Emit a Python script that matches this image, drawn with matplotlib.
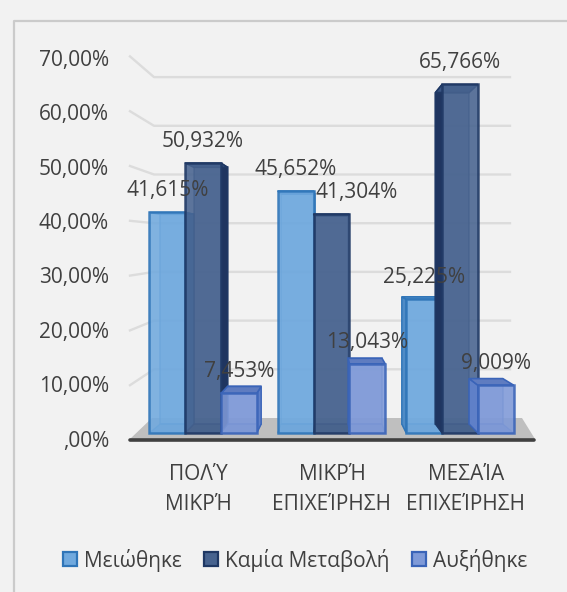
import matplotlib
matplotlib.use('Agg')
import matplotlib.pyplot as plt
from matplotlib.patches import Polygon, Rectangle
from matplotlib.lines import Line2D

plt.rcParams['font.family'] = ['Open Sans', 'DejaVu Sans']

# data
categories = ['ΠΟΛΎ\nΜΙΚΡΉ', 'ΜΙΚΡΉ\nΕΠΙΧΕΊΡΗΣΗ', 'ΜΕΣΑΊΑ\nΕΠΙΧΕΊΡΗΣΗ']
series_names = ['Μειώθηκε', 'Καμία Μεταβολή', 'Αυξήθηκε']
meiothike = [41.615, 45.652, 25.225]
kamia = [50.932, 41.304, 65.766]
afxithike = [7.453, 13.043, 9.009]
y_ticks = [0, 10, 20, 30, 40, 50, 60, 70]
y_tick_labels = [',00%', '10,00%', '20,00%', '30,00%', '40,00%', '50,00%', '60,00%', '70,00%']

# style
fills = ['#70a9de', '#47638f', '#7f9ad8']
edges = ['#2f75b8', '#1f3864', '#3a64b8']
sides = ['#4f8bc6', '#1f3560', '#5f80c8']
tops = ['#5f9ad2', '#3a5583', '#5f7cc0']
text_col = '#404040'
W, H = 567, 592
FS = 15

fig = plt.figure(figsize=(W / 100, H / 100), dpi=100, facecolor='#f2f2f2')
ax = fig.add_axes([0, 0, 1, 1])
ax.axis('off')

# one group = 128.5 px, one percent = 5.3 px on the front plane of the bars
ax.set_xlim((0 - 203) / 128.5, (W - 203) / 128.5)
ax.set_ylim((433 - H) / 5.3, 433 / 5.3)
bar_w = 35.8 / 128.5


def fx(p):
    return p / W


def fy(p):
    return 1 - p / H


def back(x, v):
    # perspective: back face of a bar
    return 1 + (x - 1) * 0.94, 9 / 5.3 + v * 5.04 / 5.3


def fig_poly(pts, **kw):
    fig.add_artist(Polygon([(fx(a), fy(b)) for a, b in pts], transform=fig.transFigure, **kw))


def fig_line(xs, ys, **kw):
    fig.add_artist(Line2D([fx(a) for a in xs], [fy(b) for b in ys], transform=fig.transFigure, **kw))


# frame: top and left only, the rest runs off the picture
fig_line([14, 14, W + 5], [H + 5, 21, 21], color='#cbcbcb', lw=1.6, zorder=-5)

# walls
for t in y_ticks[1:]:
    wy = 418 - 4.87 * t
    fig_line([130, 154, 510], [440 - 5.48 * t, wy, wy], color='#dcdcdc', lw=1.7, zorder=-4)

# floor
fig_poly([(130, 439), (152, 418), (522, 418), (535, 439)], facecolor='#bfbfbf', edgecolor='none', zorder=-3)
fig_line([130, 534], [440, 440], color='#404040', lw=2.6, solid_capstyle='round', zorder=-2)


def draw_bar(x0, v, j):
    x1 = x0 + bar_w
    f = [(x0, 0), (x1, 0), (x1, v), (x0, v)]
    b = [back(x, y) for x, y in f]
    ec = edges[j]
    # inside of the box, seen through the front
    ax.add_patch(Polygon(b, facecolor=fills[j], edgecolor=ec, lw=1.2, alpha=0.55))
    ax.add_patch(Polygon([f[0], f[1], b[1], b[0]], facecolor=sides[j], edgecolor=ec, lw=1, alpha=0.6))
    if b[1][0] > x1:
        ax.add_patch(Polygon([f[1], f[2], b[2], b[1]], facecolor=sides[j], edgecolor=ec, lw=1))
    if b[0][0] < x0:
        ax.add_patch(Polygon([f[0], f[3], b[3], b[0]], facecolor=sides[j], edgecolor=ec, lw=1))
    ax.add_patch(Polygon([f[3], f[2], b[2], b[3]], facecolor=tops[j], edgecolor=ec, lw=1.2))
    ax.add_patch(Polygon(f, facecolor=fills[j], edgecolor=ec, lw=1.8, alpha=0.88))


values = [meiothike, kamia, afxithike]
for i in range(len(categories)):
    for j in range(len(values)):
        draw_bar(i + (j - 1.5) * bar_w, values[j][i], j)

# value labels
for i in range(len(categories)):
    for j in range(len(values)):
        v = values[j][i]
        lx = i + (j - 1) * bar_w
        if i == 1 and j == 1:
            lx += 25 / 128.5
        ax.text(lx, v + 21.5 / 5.3, f'{v:.3f}%'.replace('.', ','), ha='center', va='center',
                fontsize=FS, color=text_col, zorder=5)

# axis labels
for t, lab in zip(y_ticks, y_tick_labels):
    fig.text(fx(109), fy(441 - 5.44 * t), lab, ha='right', va='center', fontsize=FS, color=text_col)

for i, lab in enumerate(categories):
    for k, part in enumerate(lab.split('\n')):
        fig.text(fx(332 + (i - 1) * 134), fy(475 + k * 30), part, ha='center', va='center',
                 fontsize=FS, color=text_col)

# legend
leg_box = [63, 204, 412]
leg_txt = [84, 225, 433]
for j, name in enumerate(series_names):
    fig.add_artist(Rectangle((fx(leg_box[j]), fy(566)), 14 / W, 14 / H, transform=fig.transFigure,
                             facecolor=fills[j], edgecolor=edges[j], lw=1.6))
    fig.text(fx(leg_txt[j]), fy(560), name, ha='left', va='center', fontsize=FS, color=text_col)

fig.savefig('out.png', dpi=100, facecolor=fig.get_facecolor())
